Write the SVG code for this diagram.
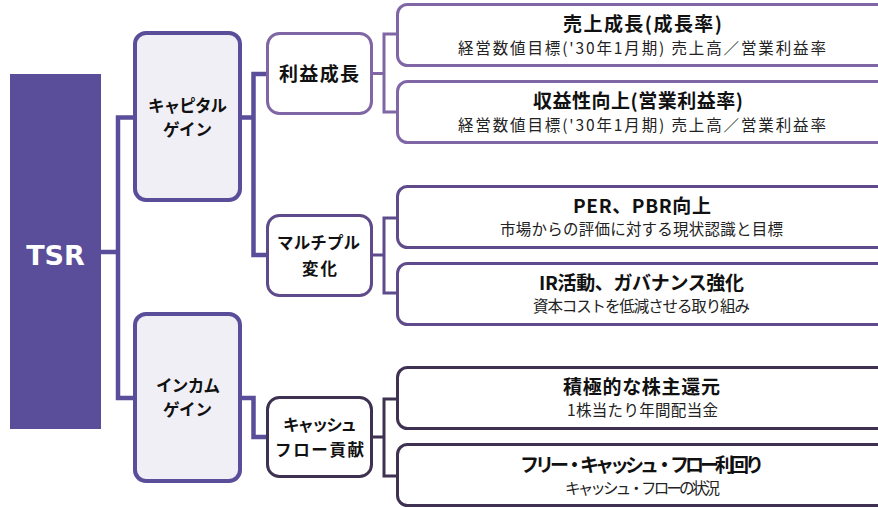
<svg xmlns="http://www.w3.org/2000/svg" width="878" height="507" viewBox="0 0 878 507">
<style>
.jp{font-family:"Noto Sans CJK JP","Noto Sans",sans-serif;fill:#111}
.b{font-weight:bold;font-size:19px}
.b2{font-weight:bold;font-size:16.5px}
.s{font-size:15.5px;fill:#222}
.thick{fill:none;stroke:#5A4E9B;stroke-width:4.5}
.thin{fill:none;stroke-width:3}
.c1{stroke:#8166A6}
.c2{stroke:#5F4B8B}
.c3{stroke:#3F3151}
.box{fill:#fff;stroke-width:3}
.main{fill:#F0EFF5;stroke:#5A4E9B;stroke-width:4}
</style>
<rect width="878" height="507" fill="#fff"/>
<g id="connectors">
<path class="thick" d="M101,252 H118 M133,117.5 H118 V398 H133"/>
<path class="thick" d="M242,117.5 H253.5 M266,74 H253.5 V255 H266"/>
<path class="thick" d="M242,398 H253.5 V437 H266"/>
<path class="thin c1" d="M373,73.5 H384 M396,34 H384 V112 H396"/>
<path class="thin c2" d="M373,255 H384 M396,218 H384 V293 H396"/>
<path class="thin c3" d="M373,437 H384 M396,399 H384 V476 H396"/>
</g>
<g id="tsr">
<rect x="10" y="74" width="91" height="355" fill="#5A4E9B"/>
<text x="55.5" y="265" text-anchor="middle" font-family="DejaVu Sans, sans-serif" font-weight="bold" font-size="27" fill="#fff">TSR</text>
</g>
<g id="capital">
<rect class="main" x="135" y="33" width="105" height="167" rx="11"/>
<text class="jp b2" x="148" y="112" textLength="79">キャピタル</text>
<text class="jp b2" x="163" y="136" textLength="49">ゲイン</text>
</g>
<g id="income">
<rect class="main" x="135" y="314" width="105" height="167" rx="11"/>
<text class="jp b2" x="156" y="392" textLength="64">インカム</text>
<text class="jp b2" x="163" y="416" textLength="49">ゲイン</text>
</g>
<g id="rieki">
<rect class="box c1" x="267.5" y="33.5" width="104" height="80" rx="12"/>
<text class="jp b" x="279" y="81" textLength="80">利益成長</text>
</g>
<g id="multiple">
<rect class="box c2" x="267.5" y="215.5" width="104" height="80" rx="12"/>
<text class="jp b2" x="277" y="249" textLength="83">マルチプル</text>
<text class="jp b2" x="302" y="275" textLength="35">変化</text>
</g>
<g id="cashflow">
<rect class="box c3" x="267.5" y="397.5" width="104" height="79" rx="12"/>
<text class="jp b2" x="283" y="431" textLength="74">キャッシュ</text>
<text class="jp b2" x="275" y="456" textLength="89">フロー貢献</text>
</g>
<g id="r1">
<rect class="box c1" x="397.5" y="4.5" width="500" height="61" rx="10"/>
<text class="jp b" x="563" y="31" textLength="159">売上成長(成長率)</text>
<text class="jp s" x="458" y="54" textLength="368">経営数値目標('30年1月期) 売上高／営業利益率</text>
</g>
<g id="r2">
<rect class="box c1" x="397.5" y="81.5" width="500" height="61" rx="10"/>
<text class="jp b" x="533" y="108" textLength="210">収益性向上(営業利益率)</text>
<text class="jp s" x="458" y="131" textLength="368">経営数値目標('30年1月期) 売上高／営業利益率</text>
</g>
<g id="r3">
<rect class="box c2" x="397.5" y="186.5" width="500" height="61" rx="10"/>
<text class="jp b" x="573" y="213" textLength="138">PER、PBR向上</text>
<text class="jp s" x="500" y="235" textLength="283">市場からの評価に対する現状認識と目標</text>
</g>
<g id="r4">
<rect class="box c2" x="397.5" y="263.5" width="500" height="61" rx="10"/>
<text class="jp b" x="539" y="290" textLength="205">IR活動、ガバナンス強化</text>
<text class="jp s" x="533" y="312" textLength="217">資本コストを低減させる取り組み</text>
</g>
<g id="r5">
<rect class="box c3" x="397.5" y="367.5" width="500" height="61" rx="10"/>
<text class="jp b" x="563" y="394" textLength="157">積極的な株主還元</text>
<text class="jp s" x="567" y="416" textLength="151">1株当たり年間配当金</text>
</g>
<g id="r6">
<rect class="box c3" x="397.5" y="444.5" width="500" height="61" rx="10"/>
<text class="jp b" x="520" y="472" textLength="244">フリー・キャッシュ・フロー利回り</text>
<text class="jp s" x="565" y="494" textLength="155">キャッシュ・フローの状況</text>
</g>
</svg>
